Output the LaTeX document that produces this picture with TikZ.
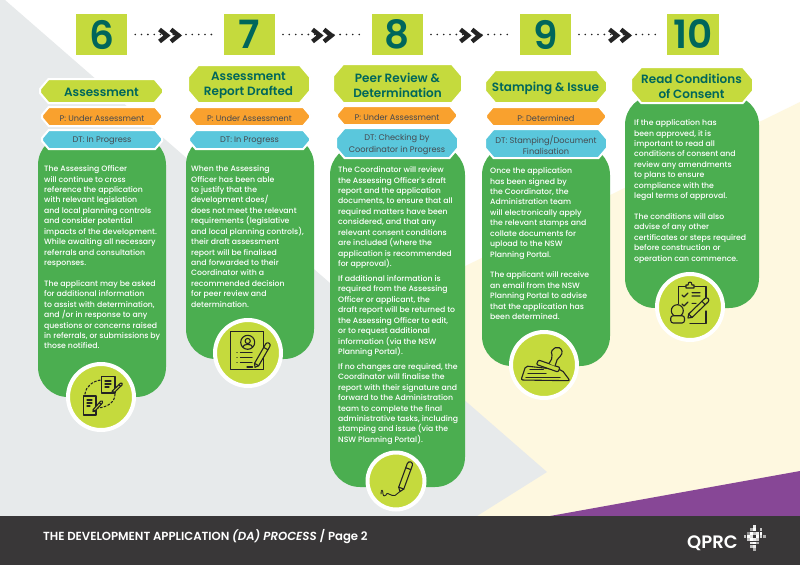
\documentclass[tikz,border=0pt]{standalone}
\usepackage{fontspec}
\setmainfont{Poppins}[BoldFont={Poppins SemiBold},BoldItalicFont={Poppins SemiBold Italic}]
\newfontfamily\medf{Poppins Medium}
\definecolor{lime}{HTML}{C5DA3D}
\definecolor{leaf}{HTML}{4BAE50}
\definecolor{amber}{HTML}{F9A12E}
\definecolor{sky}{HTML}{5AC7DC}
\definecolor{mist}{HTML}{E7EAEB}
\definecolor{cream}{HTML}{FEF8E0}
\definecolor{plum}{HTML}{874796}
\definecolor{band}{HTML}{393738}
\definecolor{teal}{HTML}{00665B}
\definecolor{ink}{HTML}{232323}
\definecolor{chiptxt}{HTML}{45494F}
\tikzset{
 numbox/.style={fill=lime,minimum width=51.5pt,minimum height=41pt,inner sep=0,text=teal,font=\bfseries\fontsize{39}{39}\selectfont},
 dotline/.style={line width=1.8pt,line cap=round,dash pattern=on 0pt off 6.35pt,draw=ink},
 chev/.style={line width=4.4pt,draw=ink,miter limit=10},
 headtxt/.style={text=teal,align=center,inner sep=0,font=\bfseries\fontsize{12}{15.2}\selectfont},
 chiptext/.style={text=chiptxt,align=center,inner sep=0,font=\fontsize{8.2}{11.5}\selectfont},
 bodytxt/.style={text=white,align=left,inner sep=0,anchor=north west,font=\medf\fontsize{7.75}{10.42}\selectfont},
 badge/.style={circle,fill=lime,draw=white,line width=4pt,inner sep=0},
 ico/.style={draw=ink,line width=1.1pt,line cap=round,line join=round},
 icofill/.style={ico,fill=lime},
}
\newcommand{\octa}[6]{\path[fill=#6,draw=white,line width=2pt] (#1+#5*0.85,#2) -- (#3-#5*0.85,#2) -- (#3,#2+#5) -- (#3,#4-#5) -- (#3-#5*0.85,#4) -- (#1+#5*0.85,#4) -- (#1,#4-#5) -- (#1,#2+#5) -- cycle;}
\newcommand{\fl}{\rule{0pt}{7pt}}
\newcommand{\penicon}[4]{% tip x,y ; rotation ; scale
 \begin{scope}[shift={(#1,#2)},rotate=#3,scale=#4]
  \path[icofill] (0,0) -- (4,-3) -- (32,-3) arc[start angle=-90,end angle=90,radius=3] -- (4,3) -- cycle;
  \draw[ico] (4,-3) -- (4,3) (27,-3) -- (27,3);
 \end{scope}}
\begin{document}
\begin{tikzpicture}[x=1pt,y=-1pt]
\useasboundingbox (0,0) rectangle (800,565);
\fill[white] (0,0) rectangle (800,565);
% background
\fill[cream] (800,102) -- (800,516) -- (400,516) -- (400,298) -- cycle;
\fill[mist] (0,0) -- (5,0) -- (547,472) -- (477,516) -- (0,516) -- cycle;
\fill[plum] (550,516) -- (800,471) -- (800,516) -- cycle;
\fill[band] (0,516) rectangle (800,565);
% number boxes
\node[numbox] (n6) at (101.7,34.5) {6};
\node[numbox] (n7) at (249.5,34.5) {7};
\node[numbox] (n8) at (397.5,34.5) {8};
\node[numbox] (n9) at (545.5,34.5) {9};
\node[numbox] (n10) at (693.2,34.5) {10};
% connectors
\draw[dotline,shorten >=11.5pt,shorten <=7.5pt] (n6.east) -- (n7.west);
\draw[dotline,shorten >=11.5pt,shorten <=7.5pt] (n7.east) -- (n8.west);
\draw[dotline,shorten >=11.5pt,shorten <=7.5pt] (n8.east) -- (n9.west);
\draw[dotline,shorten >=10pt,shorten <=7.5pt] (n9.east) -- (n10.west);
\foreach \cx in {158,311,459,608}{
 \draw[chev] (\cx+1.5,29.5) -- (\cx+9,35.5) -- (\cx+1.5,41.5);
 \draw[chev] (\cx+13,29.5) -- (\cx+20.5,35.5) -- (\cx+13,41.5);
}
% green bodies
\fill[leaf,rounded corners=30pt] (38,135) rectangle (166,397);
\fill[leaf,rounded corners=30pt] (186,135) rectangle (314,359);
\fill[leaf,rounded corners=30pt] (330,145) rectangle (465,487);
\fill[leaf,rounded corners=30pt] (482,145) rectangle (610,366);
\fill[leaf,rounded corners=30pt] (625,95) rectangle (759,308);
% column 6
\octa{42}{130}{162}{149}{8}{sky}\node[chiptext] (d6) at (102,141) {DT: In Progress};
\octa{42}{107}{162}{126}{8}{amber}\node[chiptext] (p6) at (102,118.5) {P: Under Assessment};
\octa{40}{79}{163}{103}{10}{lime}\node[headtxt] (h6) at (101.5,92) {Assessment};
% column 7
\octa{189}{130}{310}{149}{8}{sky}\node[chiptext] (d7) at (249.5,141) {DT: In Progress};
\octa{189}{107}{310}{126}{8}{amber}\node[chiptext] (p7) at (249.5,118.5) {P: Under Assessment};
\octa{188}{65}{310}{103}{12}{lime}\node[headtxt] (h7) at (248.5,85.5) {Assessment\\Report Drafted};
% column 8
\octa{336}{128}{458}{158}{10}{sky}\node[chiptext] (d8) at (397,144.5) {DT: Checking by\\Coordinator in Progress};
\octa{337}{106}{457}{125}{8}{amber}\node[chiptext] (p8) at (397,117.5) {P: Under Assessment};
\octa{333}{64}{462}{103}{12}{lime}\node[headtxt] (h8) at (397.5,85) {Peer Review \&\\Determination};
% column 9
\octa{485}{129}{607}{158}{10}{sky}\node[chiptext] (d9) at (546,145) {DT: Stamping/Document\\Finalisation};
\octa{486}{107}{606}{126}{8}{amber}\node[chiptext] (p9) at (546,118.5) {P: Determined};
\octa{485}{70}{607}{103}{12}{lime}\node[headtxt] (h9) at (545.5,88.5) {Stamping \& Issue};
% column 10
\octa{631}{67}{753}{103}{12}{lime}\node[headtxt] (h10) at (691.5,86) {Read Conditions\\of Consent};
% body texts
\node[bodytxt] (t6) at (44,164.5) {\fl The Assessing Officer\\will continue to cross\\reference the application\\with relevant legislation\\and local planning controls\\and consider potential\\impacts of the development.\\While awaiting all necessary\\referrals and consultation\\responses.\\[10.42pt]The applicant may be asked\\for additional information\\to assist with determination,\\and /or in response to any\\questions or concerns raised\\in referrals, or submissions by\\those notified.};
\node[bodytxt] (t7) at (191,164.5) {\fl When the Assessing\\Officer has been able\\to justify that the\\development does/\\does not meet the relevant\\requirements (legislative\\and local planning controls),\\their draft assessment\\report will be finalised\\and forwarded to their\\Coordinator with a\\recommended decision\\for peer review and\\determination.};
\node[bodytxt] (t8) at (338,165.5) {\fl The Coordinator will review\\the Assessing Officer's draft\\report and the application\\documents, to ensure that all\\required matters have been\\considered, and that any\\relevant consent conditions\\are included (where the\\application is recommended\\for approval).\\[4.6pt]If additional information is\\required from the Assessing\\Officer or applicant, the\\draft report will be returned to\\the Assessing Officer to edit,\\or to request additional\\information (via the NSW\\Planning Portal).\\[4.6pt]If no changes are required, the\\Coordinator will finalise the\\report with their signature and\\forward to the Administration\\team to complete the final\\administrative tasks, including\\stamping and issue (via the\\NSW Planning Portal).};
\node[bodytxt] (t9) at (490,166.5) {\fl Once the application\\has been signed by\\the Coordinator, the\\Administration team\\will electronically apply\\the relevant stamps and\\collate documents for\\upload to the NSW\\Planning Portal.\\[10.42pt]The applicant will receive\\an email from the NSW\\Planning Portal to advise\\that the application has\\been determined.};
\node[bodytxt] (t10) at (634,118.5) {\fl If the application has\\been approved, it is\\important to read all\\conditions of consent and\\review any amendments\\to plans to ensure\\compliance with the\\legal terms of approval.\\[10.42pt]The conditions will also\\advise of any other\\certificates or steps required\\before construction or\\operation can commence.};
% badges
\node[badge,minimum size=66pt] (b6) at (101,397) {};
\node[badge,minimum size=66pt] (b7) at (248,353) {};
\node[badge,minimum size=57pt] (b8) at (396,481) {};
\node[badge,minimum size=66pt] (b9) at (544,365) {};
\node[badge,minimum size=66pt] (b10) at (690,307) {};
% icon 6
\draw[ico,dash pattern=on 2pt off 2pt] (85,394) .. controls (86,386) and (93,381) .. (101,380);
\draw[ico,dash pattern=on 2pt off 2pt] (115,394) .. controls (115,402) and (108,407) .. (98,408);
\draw[icofill] (101.5,376.5) rectangle (115,393);
\draw[ico] (105,381) -- (111,381) (105,384) -- (111,384) (105,387) -- (109,387);
\penicon{112}{393}{44}{.4}
\draw[icofill] (83.5,396) rectangle (96,415);
\draw[ico] (87,400) -- (92,400) (87,403) -- (92,403) (87,406) -- (90,406);
\penicon{93}{411.5}{48}{.4}
% icon 7
\draw[icofill] (230.7,331.3) rectangle (263.3,369.7);
\draw[ico] (247.7,342.3) circle (7);
\draw[ico] (247.7,341) circle (2.6);
\draw[ico] (242.8,347) .. controls (243.5,343.5) and (252,343.5) .. (252.6,347);
\draw[ico] (237,352.3) -- (237.2,352.3) (240.5,352.3) -- (252,352.3) (237,357.3) -- (237.2,357.3) (240.5,357.3) -- (252,357.3) (237,362.3) -- (237.2,362.3) (240.5,362.3) -- (252,362.3) (247,367) -- (252.5,367);
\penicon{255}{367.3}{60}{.8}
% icon 8
\draw[ico,line width=.9pt] (381,494) .. controls (381,488) and (383,490) .. (383,494) .. controls (383,497) and (386,496) .. (387,493.5) .. controls (388,492) and (388,495) .. (390,494.5) .. controls (392,494) and (392,497) .. (395,495.5) -- (400,491.5);
\penicon{400}{491.5}{70}{.9}
% icon 9
\draw[icofill,rounded corners=2pt] (525.7,366) -- (562,370) -- (570,380.7) -- (521,380) -- cycle;
\draw[ico] (530,369.7) -- (543.3,369.7) (528,373.7) -- (546,373.7) (526,377.2) -- (560,377.2);
\draw[icofill,rounded corners=1pt] (538.5,360) -- (560,367.5) -- (558,372) -- (536.5,364.5) -- cycle;
\draw[icofill] (549,363.5) .. controls (551,360) and (553,358) .. (552,355) .. controls (549,348) and (560,344) .. (562,351) .. controls (563,355) and (558,358) .. (557,360) -- (555,366);
% icon 10
\draw[ico] (686,286.7) -- (678.3,286.7) -- (678.3,304) (694,286.7) -- (706,286.7) -- (706,300) (706,311) -- (706,323.3) -- (690,323.3);
\draw[icofill] (686,288) -- (686,285) -- (688,285) .. controls (688,281) and (692,281) .. (692,285) -- (694,285) -- (694,288) -- cycle;
\draw[ico] (682,295) -- (684,297) -- (688,293) (682,304) -- (684,306) -- (688,302) (692,292.7) -- (700,292.7) (692,296) -- (700,296) (692,303.3) -- (696,303.3);
\draw[icofill] (677.3,310.7) circle (6);
\draw[icofill,rounded corners=2.5pt] (670.7,315.7) rectangle (684.5,323);
\penicon{688}{318}{44}{.8}
% footer
\node[text=white,inner sep=0,anchor=west,font=\bfseries\fontsize{11.7}{13}\selectfont] (foot) at (43,537) {THE DEVELOPMENT APPLICATION \textit{(DA) PROCESS} / Page 2};
\node[text=white,inner sep=0,anchor=west,font=\bfseries\fontsize{18}{18}\selectfont] (logo) at (687,543) {QPRC};
\foreach \px/\py/\op in {3/0/90,2/1/60,3/1/100,5/1/70,1/2/45,2/2/100,3/2/70,4/2/90,5/2/100,0/3/70,1/3/100,2/3/85,4/3/100,5/3/80,6/3/60,1/4/70,2/4/100,3/4/90,4/4/75,2/5/90,3/5/100,4/5/60,2/6/70,3/6/90,3/7/60}
 \fill[white!\op!band] (743.5+\px*3.2,525+\py*3.3) rectangle +(2.8,2.9);
\end{tikzpicture}
\end{document}
